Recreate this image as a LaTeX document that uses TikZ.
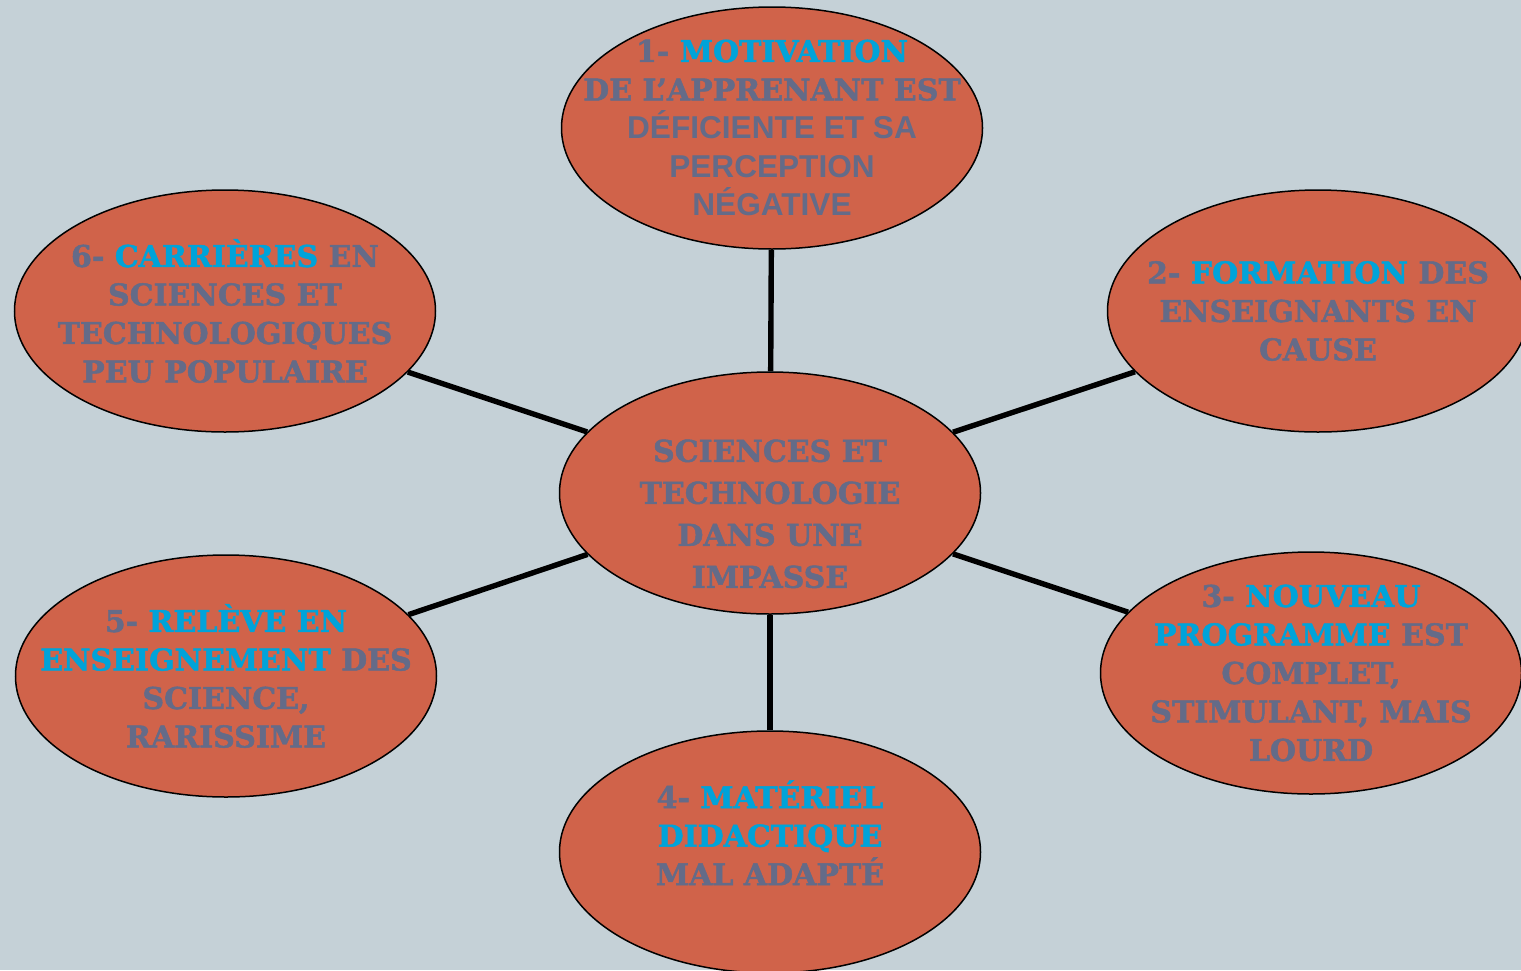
\documentclass[tikz,border=0pt]{standalone}
\usepackage{fontspec}
\setmainfont{DejaVu Serif}[BoldFeatures={FakeBold=1.6}]
\setsansfont{Liberation Sans}
\usetikzlibrary{shapes.geometric,positioning}

\definecolor{fond}{HTML}{C5D1D7}
\definecolor{brique}{HTML}{D0634A}
\definecolor{ardoise}{HTML}{646B88}
\definecolor{azur}{HTML}{00A3D9}
\newcommand{\motcle}[1]{\textcolor{azur}{#1}}
\newcommand{\vide}{\rule{0pt}{11pt}}

\begin{document}
\begin{tikzpicture}[
    x=0.5pt, y=-0.5pt,
    bulle/.style={ellipse, draw=black, line width=0.75pt, fill=brique,
        minimum width=210.5pt, minimum height=121pt,
        inner xsep=-60pt, inner ysep=-45pt, align=center, text=ardoise,
        font=\fontsize{15}{19.25}\selectfont\bfseries},
    lien/.style={line width=2.7pt, black}
]
    \useasboundingbox (0,0) rectangle (1521,970);
    \fill[fond] (0,0) rectangle (1521,970);

    \node[bulle, font=\fontsize{15}{21}\selectfont\bfseries] (centre) at (770,493)
        {\vide\\SCIENCES ET\\TECHNOLOGIE\\DANS UNE\\IMPASSE};
    \node[bulle] (motiv) at (772,128)
        {1- \motcle{MOTIVATION}\\DE L’APPRENANT EST\\{\sffamily\fontsize{15.8}{19.25}\selectfont DÉFICIENTE ET SA}\\{\sffamily\fontsize{15.8}{19.25}\selectfont PERCEPTION}\\{\sffamily\fontsize{15.8}{19.25}\selectfont NÉGATIVE}};
    \node[bulle] (form) at (1318,311)
        {2- \motcle{FORMATION} DES\\ENSEIGNANTS EN\\CAUSE};
    \node[bulle] (prog) at (1311,673)
        {3- \motcle{NOUVEAU}\\\motcle{PROGRAMME} EST\\COMPLET,\\STIMULANT, MAIS\\LOURD};
    \node[bulle] (mat) at (770,852)
        {4- \motcle{MATÉRIEL}\\\motcle{DIDACTIQUE}\\MAL ADAPTÉ\\\mbox{}};
    \node[bulle] (rel) at (226,676)
        {5- \motcle{RELÈVE EN}\\\motcle{ENSEIGNEMENT} DES\\SCIENCE,\\RARISSIME};
    \node[bulle] (car) at (225,311)
        {6- \motcle{CARRIÈRES} EN\\SCIENCES ET\\TECHNOLOGIQUES\\PEU POPULAIRE};

    \foreach \n in {motiv,form,prog,mat,rel,car}
        \draw[lien] (centre) -- (\n);
\end{tikzpicture}
\end{document}
